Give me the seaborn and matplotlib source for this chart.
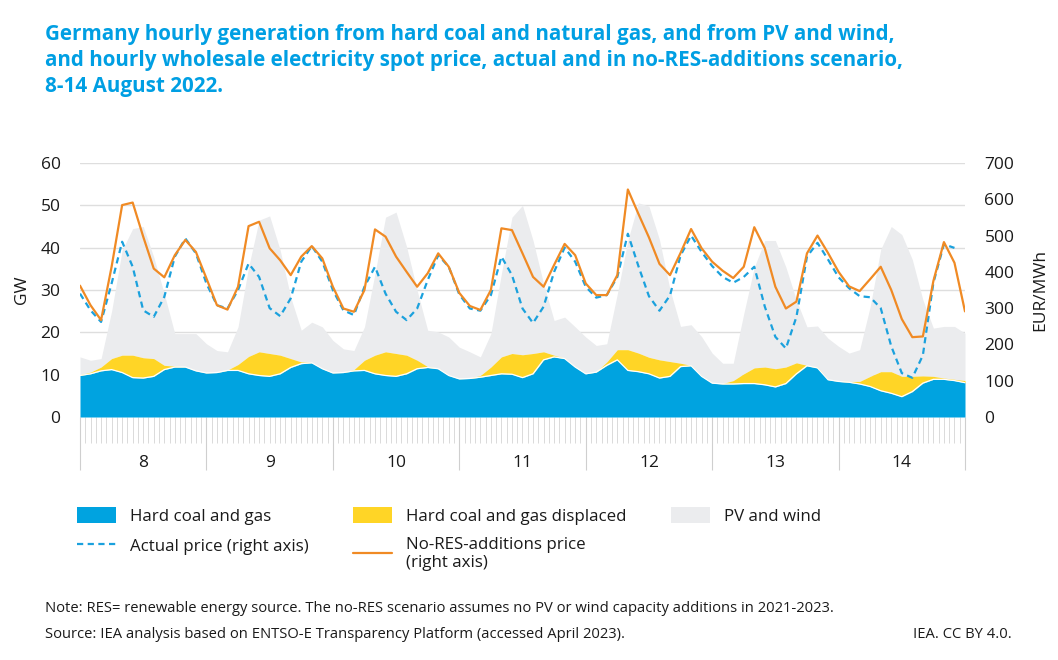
import numpy as np
import pandas as pd
import matplotlib
matplotlib.use("Agg")
import matplotlib.pyplot as plt
import seaborn as sns
from matplotlib.patches import Patch
from matplotlib.lines import Line2D

# hours since 8 Aug 00:00, read every 2 hours off the chart
hours = list(range(0, 169, 2))
day_labels = ["8", "9", "10", "11", "12", "13", "14"]

# GW
coal_gas = [9.8, 10.2, 10.9, 11.2, 10.5, 9.3, 9.2, 9.6, 11.2, 11.8, 11.8, 10.9, 10.4, 10.5, 11.0, 11.0, 10.2,
            9.8, 9.6, 10.2, 11.7, 12.6, 12.8, 11.4, 10.4, 10.5, 10.9, 11.0, 10.2, 9.8, 9.6, 10.2, 11.4, 11.7,
            11.4, 9.8, 9.0, 9.1, 9.4, 9.8, 10.2, 10.1, 9.3, 10.2, 13.5, 14.2, 13.8, 11.8, 10.2, 10.6, 12.2,
            13.5, 11.0, 10.7, 10.2, 9.2, 9.6, 11.9, 12.1, 9.6, 8.0, 7.8, 7.8, 7.9, 7.9, 7.6, 7.1, 7.9, 10.2,
            12.1, 11.6, 8.8, 8.4, 8.2, 7.8, 7.2, 6.2, 5.6, 4.8, 6.0, 8.0, 8.9, 8.9, 8.6, 8.1]
displaced = [0.2, 0.4, 0.9, 2.6, 4.1, 5.3, 4.8, 4.2, 1.0, 0.2, 0.1, 0.1, 0.1, 0.1, 0.1, 1.4, 4.1,
             5.6, 5.4, 4.4, 2.1, 0.4, 0.1, 0.1, 0.1, 0.1, 0.3, 2.4, 4.4, 5.6, 5.4, 4.4, 2.0, 0.2,
             0.1, 0.1, 0.1, 0.1, 0.4, 2.0, 4.0, 4.9, 5.4, 4.8, 1.9, 0.4, 0.1, 0.1, 0.1, 0.1, 0.8,
             2.4, 4.9, 4.4, 3.9, 4.3, 3.5, 0.8, 0.1, 0.1, 0.1, 0.1, 0.8, 2.3, 3.7, 4.2, 4.3, 3.9, 2.6,
             0.1, 0.2, 0.1, 0.1, 0.2, 0.6, 2.4, 4.5, 5.1, 4.8, 3.6, 1.7, 0.7, 0.3, 0.3, 0.5]
pv_wind = [4.2, 2.8, 2.0, 11.2, 24.8, 29.9, 31.0, 24.0, 16.9, 7.7, 7.8, 8.7, 6.8, 5.1, 4.3, 8.9, 21.1,
           31.1, 32.5, 24.8, 14.5, 7.5, 9.5, 9.8, 7.6, 5.5, 4.5, 7.9, 19.3, 31.8, 33.4, 25.6, 16.5, 8.6,
           8.6, 9.0, 7.4, 6.2, 4.4, 7.9, 19.7, 32.2, 35.3, 26.7, 16.1, 8.2, 9.7, 9.4, 8.6, 6.2, 4.3,
           13.2, 25.8, 35.5, 35.7, 28.4, 17.0, 8.7, 9.6, 9.3, 7.0, 4.8, 4.1, 14.2, 23.8, 29.9, 30.3, 23.6, 14.8,
           9.1, 9.7, 9.7, 8.2, 6.7, 7.5, 16.5, 28.9, 34.3, 33.5, 27.6, 18.0, 11.4, 12.2, 12.5, 11.2]

# EUR/MWh
actual_price = [340, 294, 262, 368, 483, 414, 294, 276, 331, 442, 492, 451, 368, 308, 299, 350, 423,
                386, 300, 278, 327, 428, 471, 428, 350, 294, 281, 359, 414, 340, 290, 267, 299, 377,
                446, 414, 338, 299, 293, 336, 442, 391, 299, 259, 304, 400, 467, 428, 359, 329, 336,
                386, 505, 416, 333, 293, 335, 445, 500, 455, 416, 386, 370, 386, 414, 304, 221, 189, 276,
                442, 480, 434, 385, 355, 333, 330, 300, 195, 121, 108, 170, 370, 476, 466, np.nan]
nores_price = [362, 308, 267, 414, 584, 591, 497, 409, 385, 446, 488, 455, 382, 308, 296, 359, 526,
               538, 465, 432, 391, 442, 471, 437, 359, 299, 290, 350, 517, 497, 442, 400, 359, 396,
               451, 414, 342, 306, 295, 350, 520, 515, 451, 386, 359, 419, 477, 446, 368, 336, 336,
               391, 627, 560, 495, 422, 391, 452, 518, 465, 428, 403, 383, 414, 523, 465, 359, 299, 318,
               451, 500, 452, 400, 360, 347, 380, 414, 350, 270, 220, 222, 375, 482, 425, 291]

BLUE = "#00a3e0"
YELLOW = "#ffd526"
GREY = "#ebecee"
ORANGE = "#f08a24"
DASH_BLUE = "#1ba1dd"
TITLE_BLUE = "#009fe3"
TEXT = "#1a1a1a"
DASHES = (0, (2.8, 2.0))

df = pd.DataFrame({
    "hour": hours,
    "coal_gas": coal_gas,
    "displaced": displaced,
    "pv_wind": pv_wind,
    "actual": actual_price,
    "nores": nores_price,
})
df["disp_top"] = df["coal_gas"] + df["displaced"]
df["pv_top"] = df["disp_top"] + df["pv_wind"]

sns.set_theme(style="white")
plt.rcParams["font.family"] = ["Open Sans", "DejaVu Sans"]
plt.rcParams["text.color"] = TEXT

W, H = 1058, 660
fig = plt.figure(figsize=(W / 100, H / 100), dpi=100)
ax = fig.add_axes([80 / W, (H - 417) / H, 885 / W, 254 / H])

ax.fill_between(df["hour"], df["disp_top"], df["pv_top"], color=GREY, lw=0, zorder=1)
ax.fill_between(df["hour"], df["coal_gas"], df["disp_top"], color=YELLOW, lw=0, zorder=2)
ax.fill_between(df["hour"], 0, df["coal_gas"], color=BLUE, lw=0, zorder=3)
sns.lineplot(data=df, x="hour", y="coal_gas", ax=ax, color="white", lw=0.9, zorder=4)

ax.set_xlim(0, 168)
ax.set_ylim(0, 60)
ax.set_yticks(range(0, 61, 10))
ax.yaxis.grid(True, color="#dedede", lw=1)
ax.set_axisbelow(True)
ax.tick_params(axis="y", length=0, pad=14, labelsize=12.5, labelcolor=TEXT)
ax.set_xticks(range(0, 169, 24))
ax.set_xticks([h for h in range(1, 168) if h % 24], minor=True)
ax.set_xticklabels([])
ax.tick_params(axis="x", which="both", bottom=True, direction="out")
ax.tick_params(axis="x", which="major", length=38, width=0.8, color="#cfcfcf")
ax.tick_params(axis="x", which="minor", length=19, width=0.6, color="#d4d4d4")
ax.set_xlabel("")
ax.set_ylabel("")
for i, d in enumerate(day_labels):
    ax.text(12 + 24 * i, -0.18, d, transform=ax.get_xaxis_transform(),
            ha="center", va="center", fontsize=12.5)
for s in ax.spines.values():
    s.set_visible(False)

ax2 = ax.twinx()
sns.lineplot(data=df, x="hour", y="actual", ax=ax2, color=DASH_BLUE, lw=1.6,
             linestyle=DASHES, zorder=5)
sns.lineplot(data=df, x="hour", y="nores", ax=ax2, color=ORANGE, lw=1.6, zorder=6,
             solid_joinstyle="round")
ax2.set_ylim(0, 700)
ax2.set_yticks(range(0, 701, 100))
ax2.tick_params(axis="y", length=0, pad=14, labelsize=12.5, labelcolor=TEXT)
ax2.set_xlabel("")
ax2.set_ylabel("")
for s in ax2.spines.values():
    s.set_visible(False)

fig.text(22 / W, 1 - 290 / H, "GW", rotation=90, ha="center", va="center", fontsize=12.5)
fig.text(1040 / W, 1 - 290 / H, "EUR/MWh", rotation=90, ha="center", va="center", fontsize=12.5)

title = ("Germany hourly generation from hard coal and natural gas, and from PV and wind,\n"
         "and hourly wholesale electricity spot price, actual and in no-RES-additions scenario,\n"
         "8-14 August 2022.")
fig.text(45 / W, 1 - 24 / H, title, ha="left", va="top", fontsize=14.9,
         fontweight="bold", color=TITLE_BLUE, linespacing=1.3)

handles = [
    Patch(facecolor=BLUE, edgecolor="none"),
    Line2D([0], [0], color=DASH_BLUE, lw=1.6, linestyle=DASHES),
    Patch(facecolor=YELLOW, edgecolor="none"),
    Line2D([0], [0], color=ORANGE, lw=1.6),
    Patch(facecolor=GREY, edgecolor="none"),
]
labels = ["Hard coal and gas", "Actual price (right axis)", "Hard coal and gas displaced",
          "No-RES-additions price\n(right axis)", "PV and wind"]
fig.legend(handles, labels, ncol=3, loc="upper left", bbox_to_anchor=(77 / W, 1 - 507 / H),
           frameon=False, fontsize=12.2, handlelength=2.3, handleheight=1.1,
           handletextpad=0.8, columnspacing=2.65, labelspacing=0.7, borderpad=0,
           borderaxespad=0)

fig.text(45 / W, 1 - 608 / H,
         "Note: RES= renewable energy source. The no-RES scenario assumes no PV or wind "
         "capacity additions in 2021-2023.", ha="left", va="center", fontsize=10.6)
fig.text(45 / W, 1 - 635 / H,
         "Source: IEA analysis based on ENTSO-E Transparency Platform (accessed April 2023).",
         ha="left", va="center", fontsize=10.6)
fig.text(1012 / W, 1 - 635 / H, "IEA. CC BY 4.0.", ha="right", va="center", fontsize=10.6)

fig.savefig("out.png", dpi=100)
